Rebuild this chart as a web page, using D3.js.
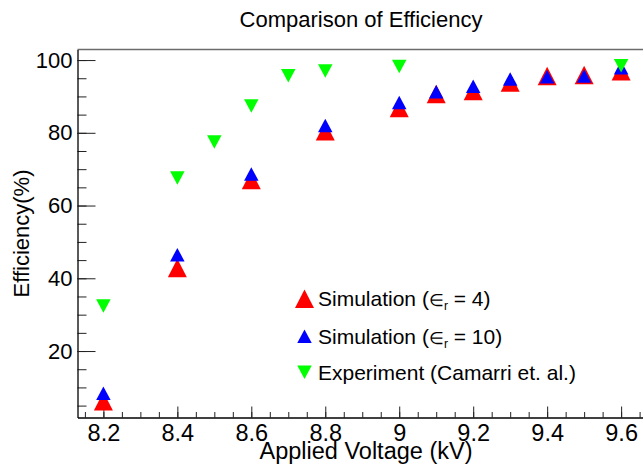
<!DOCTYPE html>
<html>
<head>
<meta charset="utf-8">
<script src="https://cdn.jsdelivr.net/npm/d3@7"></script>
<style>
  html, body { margin: 0; padding: 0; background: #fff; }
  svg { display: block; font-family: "Liberation Sans", Arial, Helvetica, sans-serif; }
</style>
</head>
<body>
<svg id="chart" width="643" height="466"></svg>
<script>
// Applied voltage (kV) for the simulations
const simVoltage = [8.2, 8.4, 8.6, 8.8, 9.0, 9.1, 9.2, 9.3, 9.4, 9.5, 9.6];
// Simulated efficiency (%) for two dielectric constants
const simEps4  = [6.2, 42.8, 67.0, 80.4, 86.8, 90.7, 91.5, 93.8, 95.6, 95.9, 96.9];
const simEps10 = [8.4, 46.5, 68.7, 82.0, 88.3, 91.3, 92.8, 94.8, 95.4, 95.6, 97.9];
// Measured efficiency (Camarri et al.)
const expVoltage = [8.2, 8.4, 8.5, 8.6, 8.7, 8.8, 9.0, 9.6];
const expEff     = [32.4, 67.6, 77.5, 87.4, 95.7, 97.0, 98.2, 98.4];
// Axis ticks
const xMajorTicks = [8.2, 8.4, 8.6, 8.8, 9.0, 9.2, 9.4, 9.6];
const xTickLabels = ["8.2", "8.4", "8.6", "8.8", "9", "9.2", "9.4", "9.6"];
const yMajorTicks = [20, 40, 60, 80, 100];
const yTickLabels = ["20", "40", "60", "80", "100"];

const svg = d3.select("#chart");
const frame = { left: 77.5, right: 647, top: 49.5, bottom: 417.5 };

const x = d3.scaleLinear().domain([8.13, 9.67]).range([frame.left, frame.right]);
const y = d3.scaleLinear().domain([1.73, 102.9]).range([frame.bottom, frame.top]);

const xMinor = d3.range(163, 194).map(v => v * 0.05).filter(v => v >= 8.14 && v <= 9.66);
const yMinor = d3.range(1, 21).map(v => v * 5);

// Frame top and right edges
svg.append("path")
  .attr("d", `M${frame.left},${frame.top}H${frame.right}V${frame.bottom}`)
  .attr("fill", "none").attr("stroke", "#6b6b6b").attr("stroke-width", 1.6);

// Minor ticks
svg.append("g").attr("transform", `translate(0,${frame.bottom})`)
  .call(d3.axisBottom(x).tickValues(xMinor).tickSize(-5.5).tickSizeOuter(0).tickFormat(""))
  .call(g => g.select(".domain").remove());
svg.append("g").attr("transform", `translate(${frame.left},0)`)
  .call(d3.axisLeft(y).tickValues(yMinor).tickSize(-9).tickSizeOuter(0).tickFormat(""))
  .call(g => g.select(".domain").remove());

// Major ticks with labels
const xAxis = svg.append("g").attr("transform", `translate(0,${frame.bottom})`)
  .call(d3.axisBottom(x).tickValues(xMajorTicks).tickSize(-11).tickSizeOuter(0).tickPadding(7)
    .tickFormat((d, i) => xTickLabels[i]));
const yAxis = svg.append("g").attr("transform", `translate(${frame.left},0)`)
  .call(d3.axisLeft(y).tickValues(yMajorTicks).tickSize(-18).tickSizeOuter(0).tickPadding(5)
    .tickFormat((d, i) => yTickLabels[i]));

[xAxis, yAxis].forEach(g => {
  g.selectAll("text").attr("fill", "#000")
    .attr("font-family", "Liberation Sans, Arial, sans-serif");
  g.selectAll("line").attr("stroke", "#000");
  g.select(".domain").attr("stroke", "#000").attr("stroke-width", 1.3);
});
xAxis.selectAll("text").attr("font-size", 23.5);
yAxis.selectAll("text").attr("font-size", 22);
svg.selectAll("g line").attr("stroke", "#222");

// Triangle marker path, centred on (cx, cy)
function triangle(cx, cy, w, h, up) {
  const s = up ? 1 : -1;
  return `M${cx},${cy - s * h / 2}L${cx + w / 2},${cy + s * h / 2}L${cx - w / 2},${cy + s * h / 2}Z`;
}

const series = [
  { name: "eps4",  xs: simVoltage, ys: simEps4,  color: "#ff0000", w: 19, h: 18.5, up: true },
  { name: "eps10", xs: simVoltage, ys: simEps10, color: "#0000ff", w: 14.5, h: 13.5, up: true },
  { name: "exp",   xs: expVoltage, ys: expEff,   color: "#00ff00", w: 14.5, h: 13.5, up: false }
];

series.forEach(s => {
  svg.append("g").attr("class", s.name)
    .selectAll("path").data(s.ys).join("path")
    .attr("d", (v, i) => triangle(x(s.xs[i]), y(v), s.w, s.h, s.up))
    .attr("fill", s.color);
});

// Legend
const legend = svg.append("g").attr("font-size", 21);
const legendRows = [
  { s: series[0], cy: 298.8, main: "Simulation (", sub: "r", rest: " = 4)" },
  { s: series[1], cy: 336.3, main: "Simulation (", sub: "r", rest: " = 10)" },
  { s: series[2], cy: 372.3, main: "Experiment (Camarri et. al.)", sub: null, rest: "" }
];
legendRows.forEach(r => {
  legend.append("path")
    .attr("d", triangle(304.5, r.cy, r.s.w, r.s.h, r.s.up))
    .attr("fill", r.s.color);
  const t = legend.append("text").attr("x", 318).attr("y", r.cy + 7.5).attr("fill", "#000");
  t.append("tspan").text(r.main);
  if (r.sub) {
    t.append("tspan").attr("font-size", 17).text("\u2208");
    t.append("tspan").attr("font-size", 12).attr("dy", 4).text(r.sub);
    t.append("tspan").attr("dy", -4).text(r.rest);
  }
});

// Titles
svg.append("text").attr("x", 361).attr("y", 27).attr("text-anchor", "middle")
  .attr("font-size", 22).attr("fill", "#000").text("Comparison of Efficiency");
svg.append("text").attr("x", 366).attr("y", 459).attr("text-anchor", "middle")
  .attr("font-size", 23.5).attr("fill", "#000").text("Applied Voltage (kV)");
svg.append("text").attr("transform", "translate(29,233.5) rotate(-90)")
  .attr("text-anchor", "middle").attr("font-size", 22).attr("fill", "#000")
  .text("Efficiency(%)");
</script>
</body>
</html>
